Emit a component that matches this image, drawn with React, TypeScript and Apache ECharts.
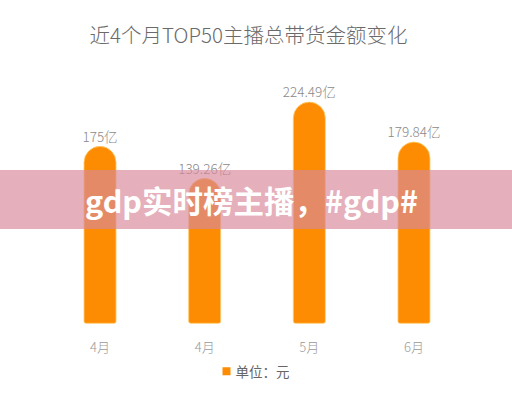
import React, { useEffect, useRef } from "react";
import * as echarts from "echarts";

const categories = ["4月", "4月", "5月", "6月"];
const values = [175, 139.26, 224.49, 179.84];
const valueLabels = ["175亿", "139.26亿", "224.49亿", "179.84亿"];
const legendName = "单位：元";
const titleText = "近4个月TOP50主播总带货金额变化";
const bannerText = "gdp实时榜主播，#gdp#";

const FONT = '"Noto Sans CJK SC", "Noto Sans", sans-serif';
const Y_MIN = -22.7;
const Y_MAX = 250;

export default function App() {
  const ref = useRef<HTMLDivElement>(null);
  useEffect(() => {
    if (!ref.current) return;
    const chart = echarts.init(ref.current, null, { renderer: "svg" });
    const data = values.map((v, i) => [i, v]);
    chart.setOption({
      animation: false,
      backgroundColor: "#ffffff",
      grid: { left: 47.7, right: 45.7, top: 79.25, bottom: 76.7, containLabel: false },
      xAxis: {
        type: "category",
        data: categories,
        axisLine: { show: false },
        axisTick: { show: false },
        splitLine: { show: false },
        axisLabel: { color: "#9a9a9a", fontSize: 13, margin: 17, fontFamily: FONT, fontWeight: 300 },
      },
      yAxis: { type: "value", min: Y_MIN, max: Y_MAX, show: false, splitLine: { show: false } },
      legend: {
        data: [{ name: legendName, icon: "rect" }],
        bottom: 17,
        left: "center",
        itemWidth: 8,
        itemHeight: 8,
        itemGap: 6,
        textStyle: { color: "#666", fontSize: 13.5, fontFamily: FONT },
      },
      series: [
        {
          name: legendName,
          type: "custom",
          itemStyle: { color: "#fd8c03" },
          encode: { x: 0, y: 1 },
          data,
          renderItem: (params: any, api: any) => {
            const idx = api.value(0);
            const v = api.value(1);
            const top = api.coord([idx, v]);
            const bottom = api.coord([idx, Y_MIN]);
            const w = api.size([1, 0])[0] * 0.306;
            return {
              type: "group",
              children: [
                {
                  type: "rect",
                  shape: {
                    x: top[0] - w / 2,
                    y: top[1],
                    width: w,
                    height: bottom[1] - top[1],
                    r: [w / 2, w / 2, 2, 2],
                  },
                  style: { fill: "#fd8c03", stroke: "rgba(255,205,110,0.8)", lineWidth: 1 },
                },
                {
                  type: "text",
                  x: top[0],
                  y: top[1] - 4,
                  style: {
                    text: valueLabels[params.dataIndex],
                    align: "center",
                    verticalAlign: "bottom",
                    fill: "#8a8a8a",
                    fontSize: 13.5,
                    fontFamily: FONT,
                    fontWeight: 300,
                  },
                },
              ],
            };
          },
        },
      ],
      graphic: [
        {
          type: "text",
          x: 248.5,
          y: 33.5,
          style: {
            text: titleText,
            align: "center",
            verticalAlign: "middle",
            fill: "#6a6a6a",
            fontSize: 20.5,
            fontFamily: FONT,
            fontWeight: 300,
          },
        },
        {
          type: "rect",
          z: 100,
          shape: { x: 0, y: 170, width: 512, height: 59 },
          style: { fill: "rgba(216,137,154,0.67)" },
        },
        {
          type: "text",
          z: 101,
          x: 251.5,
          y: 200,
          style: {
            text: bannerText,
            align: "center",
            verticalAlign: "middle",
            fill: "#ffffff",
            fontSize: 30.5,
            fontWeight: "bold",
            fontFamily: FONT,
          },
        },
      ],
    });
    return () => chart.dispose();
  }, []);
  return (
    <div
      ref={ref}
      style={{ position: "fixed", left: 0, top: 0, width: 512, height: 400 }}
    />
  );
}
